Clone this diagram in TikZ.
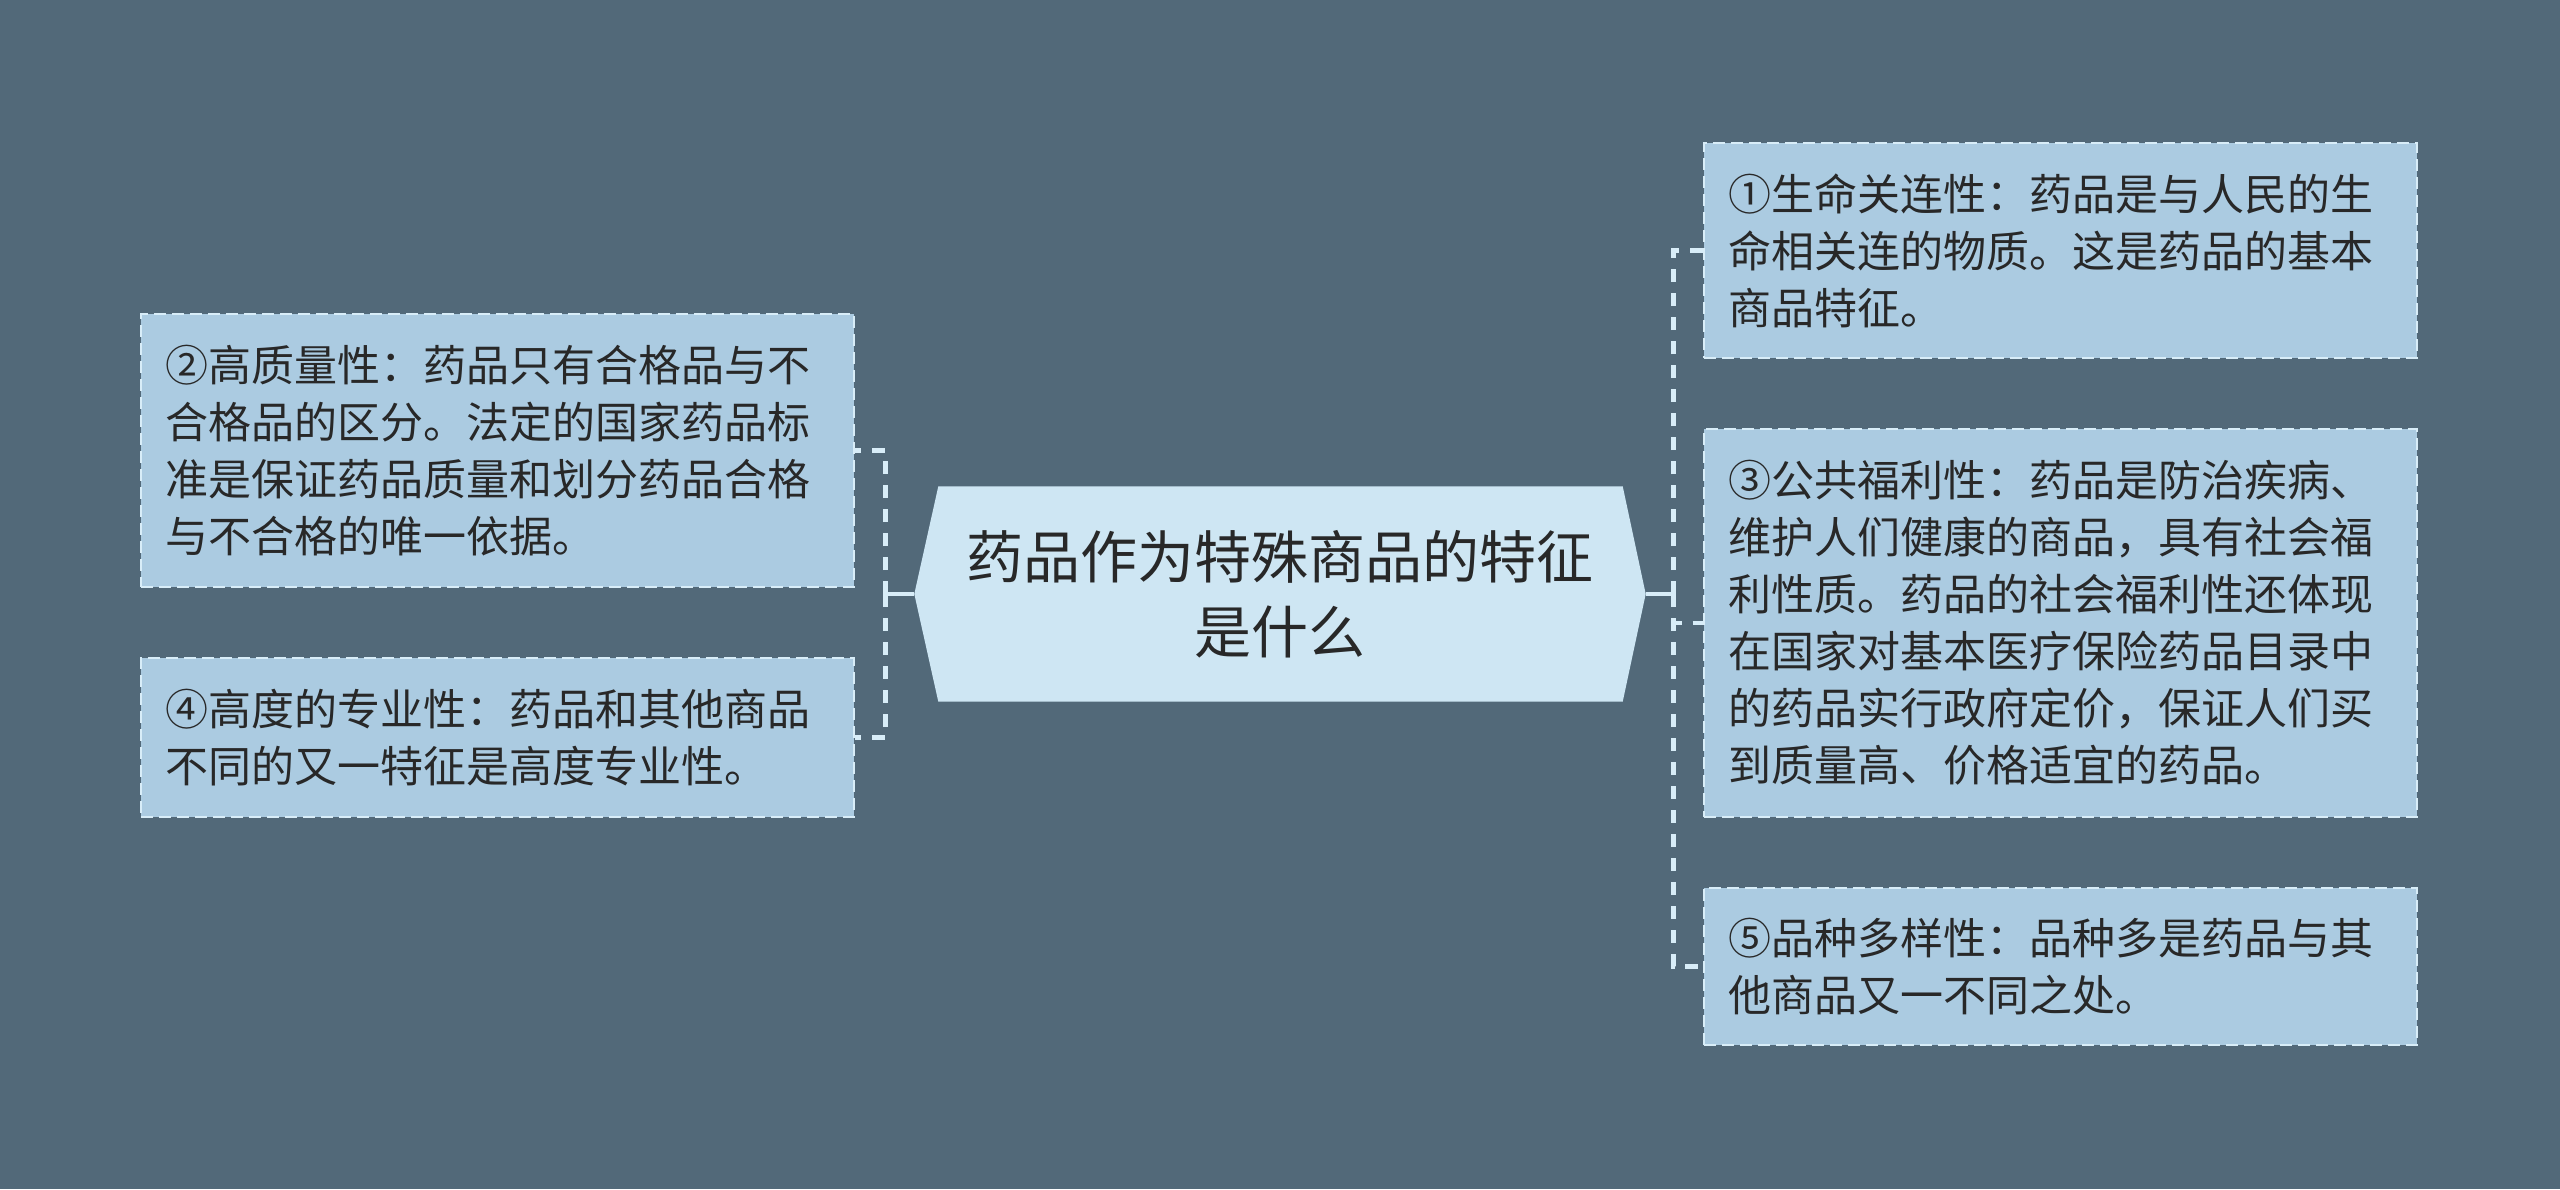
\documentclass[tikz,border=0pt]{standalone}
\usepackage{fontspec}
\newfontfamily\cjk{Noto Sans CJK SC}
\usetikzlibrary{backgrounds}
\definecolor{bgc}{RGB}{82,105,121}
\definecolor{boxfill}{RGB}{171,203,225}
\definecolor{centerfill}{RGB}{206,230,243}
\definecolor{linec}{RGB}{216,237,248}
\definecolor{textc}{RGB}{40,40,40}
\tikzset{
  leaf/.style={draw=linec, dash pattern=on 12pt off 6pt, line width=2.5pt,
    fill=boxfill, text width=665pt, align=left, inner xsep=24pt, inner ysep=0pt,
    font=\cjk\fontsize{43pt}{57pt}\selectfont, text=textc},
  hub/.style={font=\cjk\fontsize{57pt}{75pt}\selectfont, text=textc, align=center,
    minimum width=731pt, minimum height=215pt, inner sep=0pt},
  solidconn/.style={draw=linec, line width=4.5pt},
  dashconn/.style={draw=linec, line width=4.5pt, dash pattern=on 13pt off 11pt},
}
\begin{document}
\begin{tikzpicture}[x=1pt,y=-1pt]
\useasboundingbox (0,0) rectangle (2560,1189);

\node[hub] (c) at (1280,594) {药品作为特殊商品的特征\\是什么};
\begin{scope}[on background layer]
\fill[bgc] (0,0) rectangle (2560,1189);
\fill[centerfill] ([xshift=24pt]c.north west) -- ([xshift=-23pt]c.north east) -- (c.east)
  -- ([xshift=-23pt]c.south east) -- ([xshift=24pt]c.south west) -- (c.west) -- cycle;
\end{scope}

\node[leaf, minimum height=273pt] (b2) at (497.5,450.5) {②高质量性：药品只有合格品与不\\合格品的区分。法定的国家药品标\\准是保证药品质量和划分药品合格\\与不合格的唯一依据。};
\node[leaf, minimum height=159pt] (b4) at (497.5,737.5) {④高度的专业性：药品和其他商品\\不同的又一特征是高度专业性。};
\node[leaf, minimum height=215pt] (b1) at (2060.5,250.5) {①生命关连性：药品是与人民的生\\命相关连的物质。这是药品的基本\\商品特征。};
\node[leaf, minimum height=388pt] (b3) at (2060.5,623) {③公共福利性：药品是防治疾病、\\维护人们健康的商品，具有社会福\\利性质。药品的社会福利性还体现\\在国家对基本医疗保险药品目录中\\的药品实行政府定价，保证人们买\\到质量高、价格适宜的药品。};
\node[leaf, minimum height=157pt] (b5) at (2060.5,966.5) {⑤品种多样性：品种多是药品与其\\他商品又一不同之处。};

\coordinate (jl) at ([xshift=-29pt]c.west);
\coordinate (jr) at ([xshift=28pt]c.east);
\draw[solidconn] (c.west) -- (jl);
\draw[solidconn] (c.east) -- (jr);
\draw[dashconn] (jl) |- (b2.east);
\draw[dashconn] (jl) |- (b4.east);
\draw[dashconn] (jr) |- (b1.west);
\draw[dashconn] (jr) |- (b3.west);
\draw[dashconn] (jr) |- (b5.west);
\end{tikzpicture}
\end{document}
